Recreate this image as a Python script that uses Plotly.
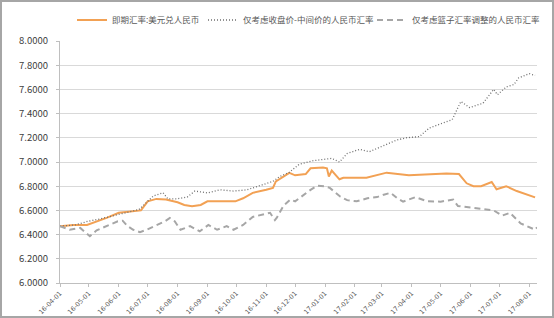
import plotly.graph_objects as go

# 即期汇率:美元兑人民币
spot_dates = ["2016-04-01", "2016-04-15", "2016-04-29", "2016-05-10", "2016-05-20", "2016-06-01",
              "2016-06-15", "2016-06-24", "2016-07-01", "2016-07-10", "2016-07-20", "2016-08-01",
              "2016-08-08", "2016-08-16", "2016-08-25", "2016-09-01", "2016-09-15", "2016-09-30",
              "2016-10-08", "2016-10-18", "2016-11-01", "2016-11-08", "2016-11-11", "2016-11-25",
              "2016-12-01", "2016-12-12", "2016-12-17", "2016-12-30", "2017-01-03", "2017-01-05",
              "2017-01-08", "2017-01-16", "2017-01-20", "2017-02-13", "2017-03-06", "2017-03-29",
              "2017-05-07", "2017-05-20", "2017-05-28", "2017-06-04", "2017-06-12", "2017-06-23",
              "2017-06-28", "2017-07-08", "2017-07-19", "2017-07-29", "2017-08-07"]
spot = [6.47, 6.48, 6.48, 6.51, 6.54, 6.58,
        6.59, 6.60, 6.675, 6.695, 6.69, 6.667,
        6.645, 6.635, 6.645, 6.675, 6.675, 6.675,
        6.70, 6.745, 6.77, 6.785, 6.84, 6.91,
        6.89, 6.90, 6.948, 6.955, 6.948, 6.88,
        6.93, 6.857, 6.87, 6.87, 6.912, 6.89,
        6.905, 6.90, 6.824, 6.80, 6.80, 6.835,
        6.775, 6.80, 6.76, 6.73, 6.708]

# 仅考虑收盘价-中间价的人民币汇率
close_dates = ["2016-04-01", "2016-04-17", "2016-04-30", "2016-05-13", "2016-05-31", "2016-06-22",
               "2016-07-01", "2016-07-07", "2016-07-17", "2016-07-22", "2016-07-31", "2016-08-11",
               "2016-08-19", "2016-09-01", "2016-09-14", "2016-09-28", "2016-10-12", "2016-10-26",
               "2016-11-08", "2016-11-15", "2016-11-25", "2016-12-05", "2016-12-19", "2017-01-08",
               "2017-01-16", "2017-01-24", "2017-02-06", "2017-02-16", "2017-03-01", "2017-03-16",
               "2017-03-26", "2017-04-09", "2017-04-19", "2017-05-03", "2017-05-13", "2017-05-22",
               "2017-05-31", "2017-06-14", "2017-06-25", "2017-06-29", "2017-07-08", "2017-07-16",
               "2017-07-21", "2017-08-01", "2017-08-07"]
close_mid = [6.47, 6.48, 6.51, 6.53, 6.565, 6.607,
             6.675, 6.72, 6.745, 6.695, 6.695, 6.71,
             6.76, 6.745, 6.77, 6.76, 6.77, 6.805,
             6.84, 6.88, 6.915, 6.98, 7.01, 7.03,
             7.00, 7.07, 7.105, 7.085, 7.13, 7.18,
             7.20, 7.21, 7.28, 7.32, 7.35, 7.50,
             7.45, 7.486, 7.60, 7.556, 7.62, 7.64,
             7.695, 7.73, 7.715]

# 仅考虑篮子汇率调整的人民币汇率
basket_dates = ["2016-04-01", "2016-04-11", "2016-04-22", "2016-05-02", "2016-05-09", "2016-05-20",
                "2016-05-31", "2016-06-05", "2016-06-10", "2016-06-16", "2016-06-23", "2016-06-30",
                "2016-07-11", "2016-07-19", "2016-07-24", "2016-07-29", "2016-08-04", "2016-08-14",
                "2016-08-24", "2016-09-02", "2016-09-11", "2016-09-21", "2016-09-28", "2016-10-08",
                "2016-10-18", "2016-10-29", "2016-11-05", "2016-11-10", "2016-11-12", "2016-11-19",
                "2016-11-26", "2016-12-01", "2016-12-08", "2016-12-17", "2016-12-24", "2016-12-31",
                "2017-01-06", "2017-01-12", "2017-01-17", "2017-01-24", "2017-02-03", "2017-02-14",
                "2017-02-24", "2017-03-03", "2017-03-10", "2017-03-17", "2017-03-23", "2017-04-05",
                "2017-04-17", "2017-05-01", "2017-05-14", "2017-05-19", "2017-05-29", "2017-06-11",
                "2017-06-25", "2017-07-04", "2017-07-12", "2017-07-23", "2017-08-02", "2017-08-07",
                "2017-08-09"]
basket = [6.47, 6.44, 6.455, 6.386, 6.435, 6.47,
          6.51, 6.515, 6.47, 6.44, 6.42, 6.44,
          6.48, 6.51, 6.537, 6.51, 6.44, 6.47,
          6.427, 6.48, 6.44, 6.47, 6.44, 6.48,
          6.546, 6.565, 6.58, 6.52, 6.54, 6.64,
          6.69, 6.675, 6.717, 6.77, 6.805, 6.80,
          6.786, 6.745, 6.713, 6.685, 6.675, 6.70,
          6.71, 6.73, 6.745, 6.70, 6.672, 6.71,
          6.675, 6.672, 6.69, 6.636, 6.625, 6.61,
          6.60, 6.557, 6.58, 6.493, 6.46, 6.44,
          6.46]

y_ticks = [6.0, 6.2, 6.4, 6.6, 6.8, 7.0, 7.2, 7.4, 7.6, 7.8, 8.0]
x_ticks = ["2016-04-01", "2016-05-01", "2016-06-01", "2016-07-01", "2016-08-01", "2016-09-01",
           "2016-10-01", "2016-11-01", "2016-12-01", "2017-01-01", "2017-02-01", "2017-03-01",
           "2017-04-01", "2017-05-01", "2017-06-01", "2017-07-01", "2017-08-01"]

FONT = "Noto Sans CJK SC"
W, H = 554, 318
ML, MR, MT, MB = 60, 17, 41, 35
PW, PH = W - ML - MR, H - MT - MB

fig = go.Figure()
fig.add_trace(go.Scatter(x=spot_dates, y=spot, mode="lines", name="即期汇率:美元兑人民币",
                         line=dict(color="#F2A154", width=2), legend="legend"))
fig.add_trace(go.Scatter(x=close_dates, y=close_mid, mode="lines", name="仅考虑收盘价-中间价的人民币汇率",
                         line=dict(color="#6F6F6F", width=1.3, dash="1px,2px"), legend="legend2"))
fig.add_trace(go.Scatter(x=basket_dates, y=basket, mode="lines", name="仅考虑篮子汇率调整的人民币汇率",
                         line=dict(color="#A6A6A6", width=2, dash="6px,4px"), legend="legend3"))


def legend_at(px_left):
    return dict(orientation="h", x=(px_left - ML) / PW, y=1 + (MT - 20) / PH,
                xanchor="left", yanchor="middle", bgcolor="rgba(0,0,0,0)",
                font=dict(family=FONT, size=8.5, color="#595959"), itemwidth=30)


fig.update_layout(
    width=W, height=H,
    margin=dict(l=ML, r=MR, t=MT, b=MB, autoexpand=False),
    paper_bgcolor="white", plot_bgcolor="white",
    font=dict(family=FONT, color="#595959"),
    showlegend=True,
    legend=legend_at(72),
    legend2=legend_at(203),
    legend3=legend_at(372),
    xaxis=dict(type="date", range=["2016-04-01", "2017-08-09"], tickvals=x_ticks,
               tickformat="%y-%m-%d", tickangle=-45, showgrid=False,
               showline=True, linecolor="#BFBFBF", linewidth=1,
               ticks="outside", ticklen=3, tickcolor="#BFBFBF",
               tickfont=dict(family="DejaVu Sans", size=6.5, color="#595959"), automargin=False),
    yaxis=dict(range=[6.0, 8.0], tickvals=y_ticks, tickformat=".4f",
               showgrid=True, gridcolor="#D9D9D9", gridwidth=1,
               showline=True, linecolor="#BFBFBF", linewidth=1,
               ticks="outside", ticklen=3, tickcolor="#BFBFBF", ticklabelstandoff=6,
               tickfont=dict(family=FONT, size=9.5, color="#404040"), automargin=False),
    shapes=[dict(type="rect", xref="paper", yref="paper",
                 x0=(1 - ML) / PW, x1=(W - 1 - ML) / PW,
                 y0=-(MB - 1) / PH, y1=1 + (MT - 1) / PH,
                 line=dict(color="#A6A6A6", width=2))],
)

fig.write_html("out.html")
